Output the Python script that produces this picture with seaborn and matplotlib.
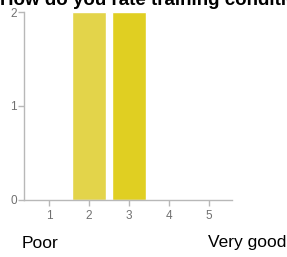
import matplotlib
matplotlib.use("Agg")
import matplotlib.pyplot as plt
import seaborn as sns
import pandas as pd

# data
ratings = [1, 2, 3, 4, 5]
counts = [0, 2, 2, 0, 0]
bar_colors = ["#e3d44a", "#e3d44a", "#e0cf22", "#e0cf22", "#e0cf22"]
title = "How do you rate training conditions?"
low_label = "Poor"
high_label = "Very good"

sns.set_style("white")
plt.rcParams['font.family'] = ['Liberation Sans', 'DejaVu Sans']

df = pd.DataFrame({"rating": ratings, "count": counts})

fig = plt.figure(figsize=(2.87, 2.57), dpi=100)
ax = fig.add_axes([24 / 287, 57 / 257, 208 / 287, 188 / 257])

sns.barplot(data=df, x="rating", y="count", hue="rating", palette=bar_colors,
            legend=False, width=0.86, native_scale=True, ax=ax, saturation=1)

ax.set_xlim(0.375, 5.575)
ax.set_ylim(0, 2)
ax.set_xticks(ratings)
ax.set_yticks([0, 1, 2])
ax.set_xlabel("")
ax.set_ylabel("")
for side in ["top", "right"]:
    ax.spines[side].set_visible(False)
for side in ["left", "bottom"]:
    ax.spines[side].set_color("#b8b8b8")
    ax.spines[side].set_linewidth(1.0)
ax.tick_params(axis="both", colors="#b8b8b8", labelcolor="#707070",
               labelsize=8.5, length=4, width=1, direction="out", left=True, bottom=True)
ax.tick_params(axis="x", pad=3)
ax.tick_params(axis="y", pad=1)

# title runs past the top and right edges, as in the original
fig.text(0.0, 252 / 257, title, fontsize=13.5, fontweight="bold", color="black",
         ha="left", va="baseline")
fig.text(22 / 287, 14 / 257, low_label, fontsize=12.5, color="black", ha="left", va="center")
fig.text(286 / 287, 14 / 257, high_label, fontsize=12.5, color="black", ha="right", va="center")

fig.savefig("out.png", dpi=100)
